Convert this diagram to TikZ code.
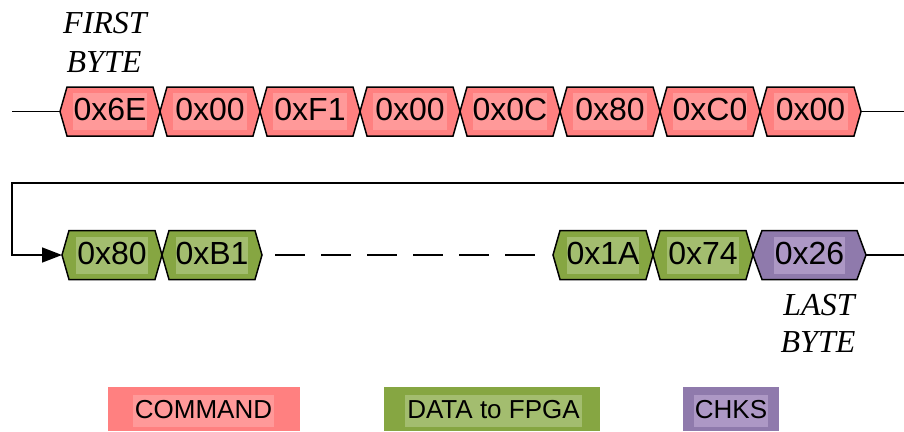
\documentclass[tikz,border=0pt]{standalone}
\usepackage{fontspec}
\setmainfont{Liberation Sans}
\newfontfamily\labfont{Liberation Serif}
\usetikzlibrary{arrows.meta}
\definecolor{cmdout}{RGB}{255,128,128}
\definecolor{cmdin}{RGB}{255,153,153}
\definecolor{datout}{RGB}{134,166,66}
\definecolor{datin}{RGB}{163,189,111}
\definecolor{chkout}{RGB}{143,122,172}
\definecolor{chkin}{RGB}{173,152,197}
% name, x-left tip, x-right tip, y-centre, inset, colour prefix, inner width, text
\newcommand\hexbyte[8]{%
  \draw[hexline, fill=#6out] (#2,#4) coordinate (#1-w) -- (#2+#5,#4-24.5) -- (#3-#5,#4-24.5)
     -- (#3,#4) coordinate (#1-e) -- (#3-#5,#4+24.5) -- (#2+#5,#4+24.5) -- cycle;
  \node[hextext, fill=#6in, minimum width=#7pt] (#1) at ({(#2+#3)/2},#4) {#8};%
}
\begin{document}
\begin{tikzpicture}[x=1pt,y=-1pt,
  hexline/.style={draw=black, line width=1.5pt, line join=miter},
  hextext/.style={inner sep=0pt, minimum height=37pt, text height=25pt, text depth=7pt,
                  font=\fontsize{32}{36}\selectfont},
  conn/.style={line width=1.5pt},
  lab/.style={inner sep=0pt, anchor=base, font=\labfont\itshape\fontsize{32}{38}\selectfont},
  legout/.style={inner sep=0pt, minimum height=44pt},
  legin/.style={inner sep=0pt, minimum height=32pt, text height=21pt, text depth=6pt,
                font=\fontsize{26}{30}\selectfont}]
\useasboundingbox (0,0) rectangle (904,431);

% top row: command bytes
\hexbyte{t1}{60}{160}{111.5}{7}{cmd}{74}{0x6E}
\hexbyte{t2}{160}{260}{111.5}{7}{cmd}{74}{0x00}
\hexbyte{t3}{260}{360}{111.5}{7}{cmd}{74}{0xF1}
\hexbyte{t4}{360}{460}{111.5}{7}{cmd}{74}{0x00}
\hexbyte{t5}{460}{560}{111.5}{7}{cmd}{74}{0x0C}
\hexbyte{t6}{560}{660}{111.5}{7}{cmd}{74}{0x80}
\hexbyte{t7}{660}{760}{111.5}{7}{cmd}{74}{0xC0}
\hexbyte{t8}{760}{861}{111.5}{7}{cmd}{74}{0x00}

% bottom row: data bytes and checksum
\hexbyte{b1}{62}{162}{255}{7}{dat}{72}{0x80}
\hexbyte{b2}{162}{262}{255}{7}{dat}{72}{0xB1}
\hexbyte{b3}{553}{653}{255}{7}{dat}{72}{0x1A}
\hexbyte{b4}{653}{753}{255}{7}{dat}{72}{0x74}
\hexbyte{b5}{753}{866}{255}{9}{chk}{71}{0x26}

% connectors
\coordinate (lin) at (12,111.5);
\coordinate (tout) at (904,111.5);
\coordinate (loopin) at (904,183);
\coordinate (loopcorner) at (12,183);
\coordinate (bout) at (904,255);
\draw[conn] (lin) -- (t1-w);
\draw[conn] (t8-e) -- (tout);
\draw[conn, -{Triangle[length=20pt,width=15pt]}] (loopin) -- (loopcorner) |- (b1-w);
\draw[conn, dash pattern=on 30pt off 16pt, shorten <=13pt, shorten >=18pt] (b2-e) -- (b3-w);
\draw[conn] (b5-e) -- (bout);

% labels
\node[lab] (first1) at (105,33) {FIRST};
\node[lab] (first2) at (104,72) {BYTE};
\node[lab] (last1) at (819,315) {LAST};
\node[lab] (last2) at (818,352) {BYTE};

% legend
\node[legout, fill=cmdout, minimum width=192pt] (legcmd) at (204,409) {};
\node[legin, fill=cmdin, minimum width=141pt] (legcmdt) at (203.5,411) {COMMAND};
\node[legout, fill=datout, minimum width=216pt] (legdat) at (492,409) {};
\node[legin, fill=datin, minimum width=177pt] (legdatt) at (493.5,411) {DATA to FPGA};
\node[legout, fill=chkout, minimum width=96pt] (legchk) at (731,409) {};
\node[legin, fill=chkin, minimum width=74pt] (legchkt) at (731,411) {CHKS};
\end{tikzpicture}
\end{document}
